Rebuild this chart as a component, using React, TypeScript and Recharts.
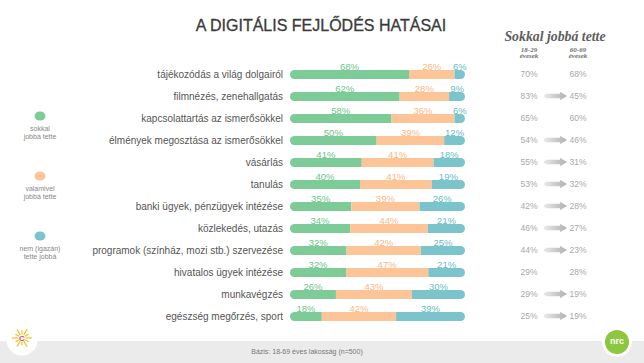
import { BarChart, Bar, XAxis, YAxis, LabelList } from "recharts";

const CATEGORIES = [
  "tájékozódás a világ dolgairól",
  "filmnézés, zenehallgatás",
  "kapcsolattartás az ismerősökkel",
  "élmények megosztása az ismerősökkel",
  "vásárlás",
  "tanulás",
  "banki ügyek, pénzügyek intézése",
  "közlekedés, utazás",
  "programok (színház, mozi stb.) szervezése",
  "hivatalos ügyek intézése",
  "munkavégzés",
  "egészség megőrzés, sport",
];
const SOKKAL = [68, 62, 58, 50, 41, 40, 35, 34, 32, 32, 26, 18];
const VALAMIVEL = [26, 28, 36, 39, 41, 41, 39, 44, 42, 47, 43, 42];
const NEM = [6, 9, 6, 12, 18, 19, 26, 21, 25, 21, 30, 39];

// "Sokkal jobbá tette" korcsoportonként
const FIATAL = [70, 83, 65, 54, 55, 53, 42, 46, 44, 29, 29, 25];
const IDOS = [68, 45, 60, 46, 31, 32, 28, 27, 23, 28, 19, 19];
const NYIL = [false, true, false, true, true, true, true, true, true, false, true, true];

const SERIES = [
  { key: "sokkal", name: "sokkal\njobbá tette", color: "#7dcb96", text: "#6cc48a" },
  { key: "valamivel", name: "valamivel\njobbá tette", color: "#fdc597", text: "#fbb783" },
  { key: "nem", name: "nem (igazán)\ntette jobbá", color: "#7cc4cc", text: "#66bcc6" },
];

const data = CATEGORIES.map((name, i) => ({
  name,
  sokkal: SOKKAL[i],
  valamivel: VALAMIVEL[i],
  nem: NEM[i],
}));

const makeLabel = (color: string) => (props: any) => {
  const { x, y, width, value } = props;
  return (
    <text x={x + width / 2} y={y + 0.3} textAnchor="middle" fontSize={9.5} fill={color}>
      {value}%
    </text>
  );
};

function RowTick(props: any) {
  const { x, y, payload } = props;
  const i = CATEGORIES.indexOf(payload.value);
  const ax = x + 261;
  const id = `nyil${i}`;
  return (
    <g>
      <text x={x} y={y} dy={3.5} textAnchor="end" fontSize={10} fill="#555">
        {payload.value}
      </text>
      <text x={x + 246} y={y} dy={3} textAnchor="middle" fontSize={8.5} fill="#a8a8a8">
        {FIATAL[i]}%
      </text>
      {NYIL[i] && (
        <g>
          <defs>
            <linearGradient id={id} x1="0" x2="1" y1="0" y2="0">
              <stop offset="0%" stopColor="#e8e8e8" />
              <stop offset="100%" stopColor="#b0b0b0" />
            </linearGradient>
          </defs>
          <path
            d={`M${ax} ${y - 0.8} L${ax + 2} ${y - 2.3} L${ax + 16} ${y - 2.3} L${ax + 16} ${y - 4.3} L${ax + 23} ${y} L${ax + 16} ${y + 4.3} L${ax + 16} ${y + 2.3} L${ax + 2} ${y + 2.3} L${ax} ${y + 0.8} Z`}
            fill={`url(#${id})`}
          />
        </g>
      )}
      <text x={x + 295} y={y} dy={3} textAnchor="middle" fontSize={8.5} fill="#a8a8a8">
        {IDOS[i]}%
      </text>
    </g>
  );
}

function Sun() {
  const rays = [0, 30, 60, 90, 120, 150, 180, 210, 240, 270, 300, 330];
  return (
    <g>
      <circle cx={22} cy={340} r={15.5} fill="#fff" />
      {rays.map((a, k) => {
        const r = (a * Math.PI) / 180;
        const len = k % 2 === 0 ? 10 : 7.5;
        return (
          <line key={a} x1={22 + Math.cos(r) * 3.5} y1={338 + Math.sin(r) * 3.5}
            x2={22 + Math.cos(r) * len} y2={338 + Math.sin(r) * len}
            stroke="#f6c21c" strokeWidth={1.2} />
        );
      })}
      <text x={22} y={341} textAnchor="middle" fontSize={8} fontWeight="bold" fill="#e2457c">C</text>
    </g>
  );
}

export default function App() {
  return (
    <div style={{ position: "absolute", left: 0, top: 0, width: 644, height: 363, background: "#fff", fontFamily: "'Liberation Sans', Arial, sans-serif" }}>
      <svg width={644} height={363} style={{ position: "absolute", left: 0, top: 0 }}>
        <rect x={0} y={341} width={644} height={22} fill="#ebebeb" />
        <text x={307} y={354} textAnchor="middle" fontSize={7} fill="#777">Bázis: 18-69 éves lakosság (n=500)</text>
        <Sun />
        <circle cx={617} cy={342} r={15} fill="#fff" />
        <circle cx={617} cy={342} r={12} fill="#8dc63f" />
        <text x={617} y={344} textAnchor="middle" fontSize={9} fontWeight="bold" fill="#fff">nrc</text>

        <text x={321} y={31} textAnchor="middle" fontSize={16} fill="#3a3a3a" stroke="#3a3a3a" strokeWidth={0.3}>
          A DIGITÁLIS FEJLŐDÉS HATÁSAI
        </text>

        <g fontFamily="'Liberation Serif', serif" fontStyle="italic" fontWeight="bold">
          <text x={555} y={41} textAnchor="middle" fontSize={13.8} fill="#5e5e5e">Sokkal jobbá tette</text>
          <text x={529} y={51.5} textAnchor="middle" fontSize={7} fill="#6e6e6e">18-29</text>
          <text x={529} y={58} textAnchor="middle" fontSize={7} fill="#6e6e6e">évesek</text>
          <text x={578} y={51.5} textAnchor="middle" fontSize={7} fill="#6e6e6e">60-69</text>
          <text x={578} y={58} textAnchor="middle" fontSize={7} fill="#6e6e6e">évesek</text>
        </g>

        {SERIES.map((s, k) => {
          const cy = 116 + k * 60;
          const lines = s.name.split("\n");
          return (
            <g key={s.key}>
              <ellipse cx={40} cy={cy} rx={5.5} ry={4.5} fill={s.color} />
              {lines.map((ln, j) => (
                <text key={j} x={40} y={cy + 14.5 + j * 8.5} textAnchor="middle" fontSize={7} fill="#888">{ln}</text>
              ))}
            </g>
          );
        })}
      </svg>

      <div style={{ position: "absolute", left: 0, top: 0 }}>
        <BarChart
          width={644}
          height={363}
          data={data}
          layout="vertical"
          stackOffset="expand"
          margin={{ top: 63, right: 179, bottom: 36, left: 0 }}
        >
          <XAxis type="number" domain={[0, 1]} hide />
          <YAxis
            type="category"
            dataKey="name"
            width={290}
            axisLine={false}
            tickLine={false}
            tickSize={0}
            tickMargin={7}
            interval={0}
            tick={<RowTick />}
          />
          <Bar dataKey="sokkal" stackId="a" barSize={9} fill={SERIES[0].color} radius={[4.5, 0, 0, 4.5]} isAnimationActive={false}>
            <LabelList dataKey="sokkal" content={makeLabel(SERIES[0].text)} />
          </Bar>
          <Bar dataKey="valamivel" stackId="a" barSize={9} fill={SERIES[1].color} isAnimationActive={false}>
            <LabelList dataKey="valamivel" content={makeLabel(SERIES[1].text)} />
          </Bar>
          <Bar dataKey="nem" stackId="a" barSize={9} fill={SERIES[2].color} radius={[0, 4.5, 4.5, 0]} isAnimationActive={false}>
            <LabelList dataKey="nem" content={makeLabel(SERIES[2].text)} />
          </Bar>
        </BarChart>
      </div>
    </div>
  );
}
